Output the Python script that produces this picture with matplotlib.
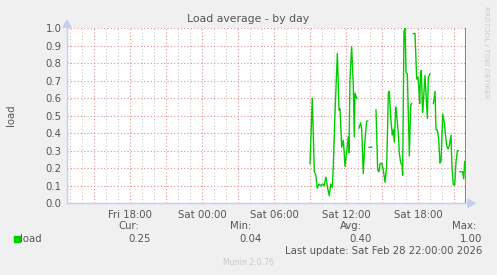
import numpy as np
import matplotlib
matplotlib.use("Agg")
import matplotlib.pyplot as plt
from matplotlib.patches import Rectangle, Polygon

# hours relative to Fri 18:00 ; NaN = gap
hours = [15.0, 15.19, 15.36, 15.47, 15.61, 15.75, 15.89, 16.03, 16.17, 16.33,
         16.47, 16.61, 16.72, 16.86, 16.94, 17.08, 17.28, 17.42, 17.5, 17.64,
         17.78, 17.92, 18.06, 18.19, 18.25, 18.33, 18.47, 18.61, 18.69, 18.75,
         18.89, 18.98,
         19.08, 19.22, 19.31, 19.44, 19.58, 19.72, 19.81, 19.86,
         19.92, 20.14, 20.3,
         20.5, 20.64, 20.75, 20.83, 20.97, 21.11, 21.25, 21.39, 21.53, 21.61,
         21.72, 21.86, 21.94, 22.03, 22.14, 22.22, 22.36, 22.44, 22.56, 22.67,
         22.72, 22.83, 22.92, 23.0, 23.11, 23.28, 23.39, 23.47, 23.54,
         23.61, 23.75, 23.89, 24.0, 24.08, 24.14, 24.21, 24.28, 24.38, 24.44,
         24.58, 24.67, 24.78, 24.86, 25.0, 25.14,
         25.28, 25.42, 25.5, 25.61, 25.72, 25.83, 25.92, 26.06, 26.17, 26.25,
         26.39, 26.5, 26.61, 26.75, 26.83, 26.94, 27.06, 27.17, 27.28, 27.36,
         27.43,
         27.5, 27.72, 27.81, 27.89, 27.97]
load = [0.225, 0.60, 0.18, 0.165, 0.086, 0.11, 0.10, 0.11, 0.10, 0.15,
        0.086, 0.043, 0.11, 0.09, 0.21, 0.51, 0.857, 0.533, 0.54, 0.32,
        0.36, 0.21, 0.30, 0.38, 0.29, 0.705, 0.895, 0.67, 0.38, 0.63,
        0.60, np.nan,
        0.43, 0.46, 0.42, 0.17, 0.36, 0.47, 0.47, np.nan,
        0.32, 0.32, np.nan,
        0.533, 0.19, 0.18, 0.225, 0.23, 0.19, 0.12, 0.21, 0.63, 0.64,
        0.495, 0.39, 0.42, 0.35, 0.55, 0.51, 0.40, 0.29, 0.23, 0.22,
        0.16, 0.98, 1.0, 0.75, 0.74, 0.27, 0.56, 0.57, np.nan,
        0.97, 0.97, 0.71, 0.72, 0.65, 0.57, 0.75, 0.76, 0.52, 0.57,
        0.73, 0.62, 0.485, 0.72, 0.74, np.nan,
        0.57, 0.64, 0.42, 0.42, 0.37, 0.23, 0.24, 0.51, 0.47, 0.42,
        0.33, 0.31, 0.33, 0.39, 0.21, 0.105, 0.105, 0.24, 0.30, 0.30,
        np.nan,
        0.18, 0.18, 0.14, 0.24, 0.20]

xtick_pos = [0, 6, 12, 18, 24]
xtick_labels = ["Fri 18:00", "Sat 00:00", "Sat 06:00", "Sat 12:00", "Sat 18:00"]
yticks = [0.0, 0.1, 0.2, 0.3, 0.4, 0.5, 0.6, 0.7, 0.8, 0.9, 1.0]

legend_heads = ["Cur:", "Min:", "Avg:", "Max:"]
legend_vals = ["0.25", "0.04", "0.40", "1.00"]

W, H = 497, 275
TXT = "#555555"
AXC = "#C8CCF0"
fig = plt.figure(figsize=(W / 100, H / 100), dpi=100, facecolor="#F0F0F0")

def fx(px):
    return px / W

def fy(py):
    return 1 - py / H

x0, x1 = 67, 466
ytop, ybot = 28.3, 203.3
ax = fig.add_axes([fx(x0), fy(ybot), fx(x1) - fx(x0), fy(ytop) - fy(ybot)])
ax.set_facecolor("white")
ax.set_xlim(-5.25, 28.0)
ax.set_ylim(0, 1.0)

# grid
for h in np.arange(-5, 28.01, 1):
    if abs(h % 3) < 1e-6:
        continue
    ax.axvline(h, color="#C8C8C8", lw=0.8, ls=(0, (1, 2)), zorder=1)
for h in np.arange(-3, 28.01, 3):
    ax.axvline(h, color="#E09090", lw=0.8, ls=(0, (1, 2)), zorder=1.1)
for v in yticks[1:]:
    ax.axhline(v, color="#E09090", lw=0.8, ls=(0, (1, 2)), zorder=1.1)

ax.plot(hours, load, color="#00CC00", lw=1.0, zorder=3)

# right border
ax.axvline(28.0, color="#888888", lw=1.5, zorder=4)

for s in ["top", "right"]:
    ax.spines[s].set_visible(False)
for s in ["left", "bottom"]:
    ax.spines[s].set_color(AXC)
    ax.spines[s].set_linewidth(1.0)

ax.set_yticks(yticks)
ax.set_yticklabels([f"{v:.1f}" for v in yticks])
ax.set_xticks(xtick_pos)
ax.set_xticklabels(xtick_labels)
ax.tick_params(axis="both", which="both", colors=TXT, labelsize=7.3, length=0, pad=4)
ax.tick_params(axis="x", which="major", pad=5)

# arrows
fig.patches.append(Polygon(
    [[fx(x0 - 4), fy(ytop - 1)], [fx(x0 + 4), fy(ytop - 1)], [fx(x0), fy(ytop - 8)]],
    closed=True, color=AXC, transform=fig.transFigure, figure=fig))
fig.patches.append(Polygon(
    [[fx(x1 + 2), fy(ybot - 4)], [fx(x1 + 2), fy(ybot + 4)], [fx(x1 + 9), fy(ybot)]],
    closed=True, color=AXC, transform=fig.transFigure, figure=fig))
fig.lines.append(plt.Line2D([fx(x1), fx(x1 + 3)], [fy(ybot), fy(ybot)],
                            color=AXC, lw=1, transform=fig.transFigure))

# titles
fig.text(fx(248), fy(19), "Load average - by day", ha="center", va="center",
         color=TXT, fontsize=7.8)
fig.text(fx(11), fy(115), "load", ha="center", va="center", rotation=90,
         color=TXT, fontsize=7.3)
fig.text(fx(486), fy(6), "RRDTOOL / TOBI OETIKER", ha="center", va="top",
         rotation=270, color="#CCCCCC", fontsize=5.2)

# legend
head_x = [139, 251, 362, 476]
val_x = [151, 262, 372, 482]
for hx, t in zip(head_x, legend_heads):
    fig.text(fx(hx), fy(226), t, ha="right", va="center", color=TXT, fontsize=7.3)
for vx, t in zip(val_x, legend_vals):
    fig.text(fx(vx), fy(239), t, ha="right", va="center", color=TXT, fontsize=7.3)
fig.patches.append(Rectangle((fx(14), fy(241.5)), 6 / W, 6 / H, color="#00CC00",
                             transform=fig.transFigure, figure=fig))
fig.text(fx(20), fy(239), "load", ha="left", va="center", color=TXT, fontsize=7.3)
fig.text(fx(482), fy(251), "Last update: Sat Feb 28 22:00:00 2026", ha="right",
         va="center", color=TXT, fontsize=7.3)
fig.text(fx(248), fy(262.5), "Munin 2.0.76", ha="center", va="center",
         color="#C8C8C8", fontsize=5.6)

fig.savefig("out.png", dpi=100, facecolor=fig.get_facecolor())
